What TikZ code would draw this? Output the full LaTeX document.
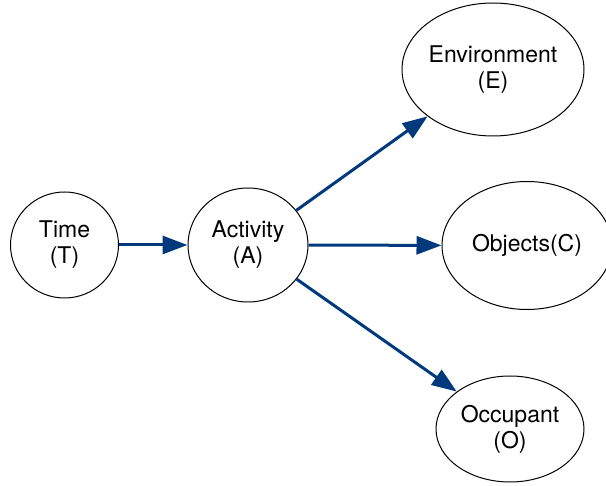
\documentclass[tikz,border=0pt]{standalone}
\usepackage{fontspec}
\setmainfont{TeX Gyre Heros}
\usepackage{tikz}
\usetikzlibrary{arrows.meta,shapes.geometric}
\definecolor{linkblue}{RGB}{0,58,125}
\tikzset{
  varnode/.style = {ellipse,draw,line width=1pt,inner sep=0pt,align=center,
                    font=\fontsize{23}{26}\selectfont},
  linkarr/.style = {-{Triangle[length=25pt,width=18pt]},line width=3pt,linkblue}
}

\begin{document}
\begin{tikzpicture}[x=1pt,y=-1pt]
  \useasboundingbox (0,0) rectangle (606,486);
  \node[varnode,minimum width=108pt,minimum height=106pt] (time) at (64.5,245) {Time\\(T)};
  \node[varnode,minimum width=120pt,minimum height=114pt] (act)  at (248,245)  {Activity\\(A)};
  \node[varnode,minimum width=182pt,minimum height=133pt] (env)  at (493,69.5) {Environment\\(E)};
  \node[varnode,minimum width=170pt,minimum height=128pt] (obj)  at (527,245.5) {Objects(C)};
  \node[varnode,minimum width=148pt,minimum height=106pt] (occ)  at (510,429)  {Occupant\\(O)};
  \draw[linkarr] (time) -- (act);
  \draw[linkarr] (act) -- (env);
  \draw[linkarr] (act) -- (obj);
  \draw[linkarr] (act) -- (occ);
\end{tikzpicture}
\end{document}
